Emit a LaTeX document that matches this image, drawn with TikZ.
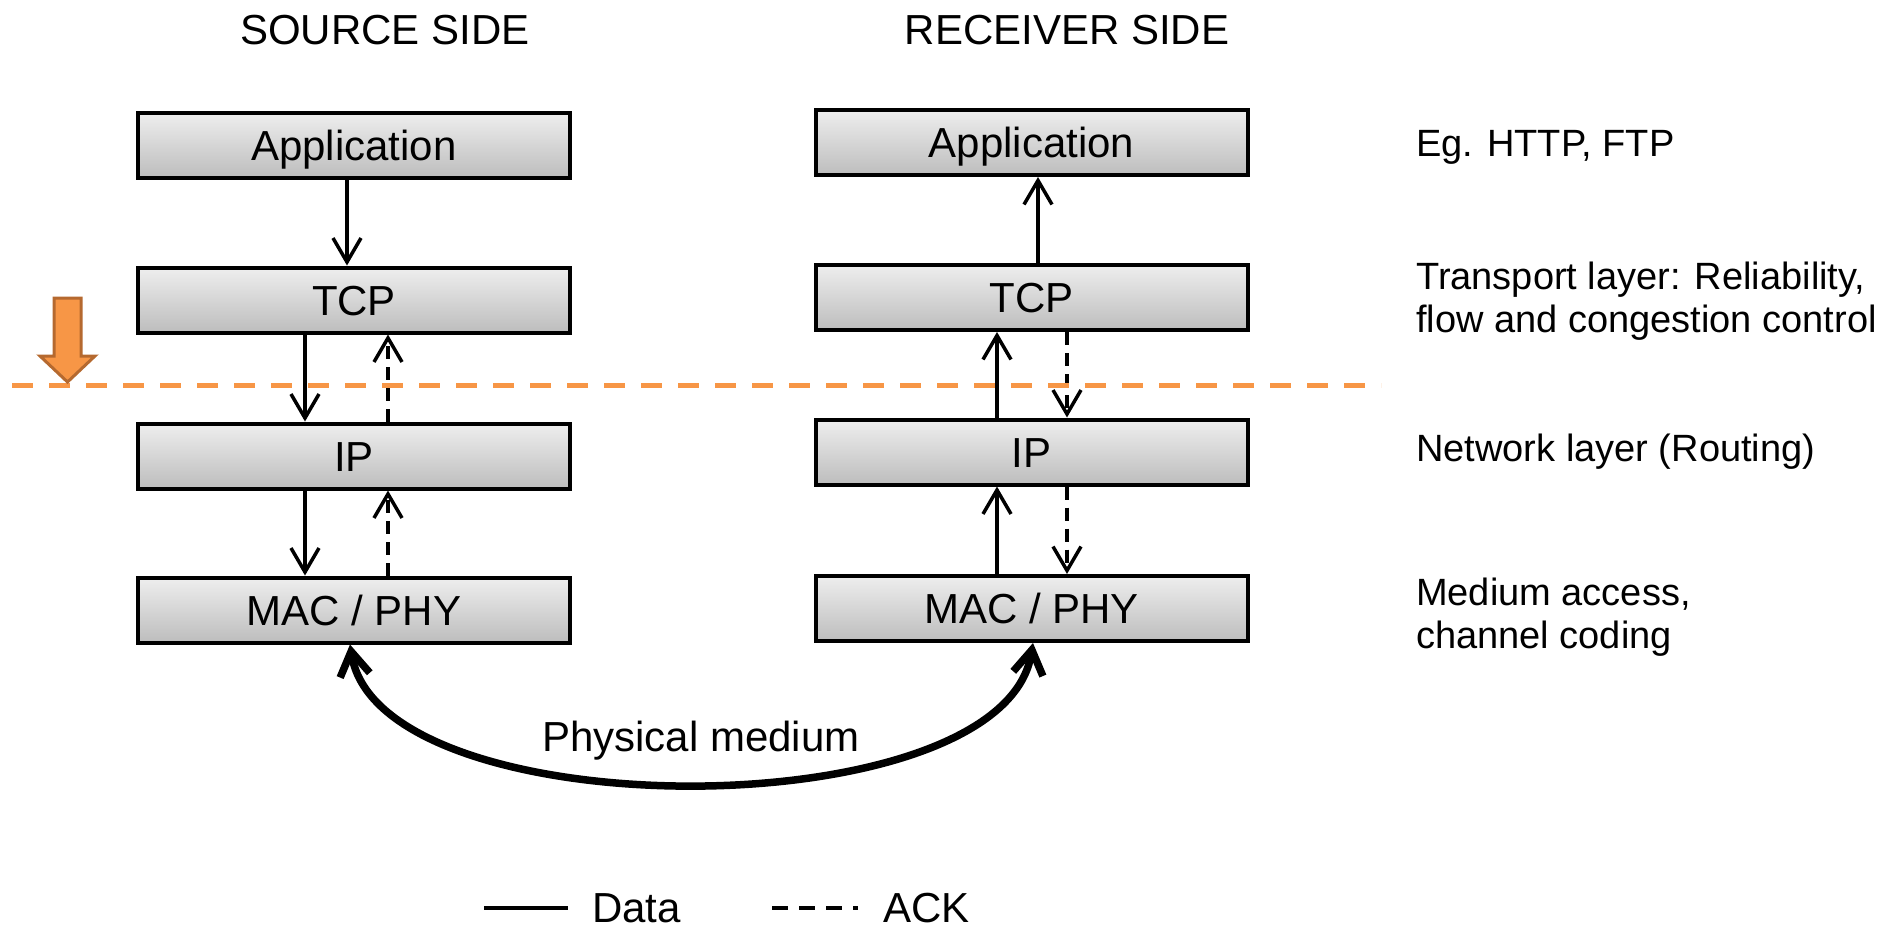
\documentclass[tikz,border=0pt]{standalone}
\usepackage{fontspec}
\setmainfont{Liberation Sans}
\usetikzlibrary{arrows.meta}
\definecolor{orng}{HTML}{F79646}
\definecolor{orngdark}{HTML}{B5692F}
\definecolor{boxtop}{HTML}{EEEEEE}
\definecolor{boxbot}{HTML}{BDBDBD}
\begin{document}
\begin{tikzpicture}[x=1pt,y=-1pt,
  layerbox/.style={draw=black, line width=4pt, top color=boxtop, bottom color=boxbot,
    minimum width=432pt, minimum height=65pt, inner sep=0pt,
    font=\fontsize{42}{50}\selectfont, text height=30pt, text depth=0pt},
  lbl/.style={font=\fontsize{42}{50}\selectfont, inner sep=0pt, text height=30pt, text depth=0pt},
  side/.style={font=\fontsize{38}{45}\selectfont, inner sep=0pt, anchor=west, text height=27pt, text depth=0pt},
  data/.style={line width=3.5pt, -{Straight Barb[length=24pt,width=28pt]}},
  ack/.style={data, dash pattern=on 13pt off 8pt},
  medium/.style={line width=7.5pt, {Straight Barb[length=24pt,width=30pt]}-{Straight Barb[length=24pt,width=30pt]}},
  cut/.style={orng, line width=5pt, dash pattern=on 21pt off 16pt},
  marker/.style={fill=orng, draw=orngdark, line width=3pt, line join=miter}
]
\useasboundingbox (0,0) rectangle (1888,930);

% headers
\node[lbl] (hs) at (385,29) {SOURCE SIDE};
\node[lbl] (hr) at (1067,29) {RECEIVER SIDE};

% source stack
\node[layerbox] (sApp) at (354,145) {Application};
\node[layerbox] (sTCP) at (354,300) {TCP};
\node[layerbox] (sIP)  at (354,456) {IP};
\node[layerbox] (sMAC) at (354,610) {MAC / PHY};

% receiver stack
\node[layerbox] (rApp) at (1031.5,142.5) {Application};
\node[layerbox] (rTCP) at (1031.5,297.5) {TCP};
\node[layerbox] (rIP)  at (1031.5,452) {IP};
\node[layerbox] (rMAC) at (1031.5,608.5) {MAC / PHY};

% x positions of connectors
\coordinate (sxa) at (347,0);
\coordinate (sxd) at (305,0);
\coordinate (sxk) at (388,0);
\coordinate (rxa) at (1038,0);
\coordinate (rxd) at (997,0);
\coordinate (rxk) at (1067,0);
\coordinate (sxm) at (350,0);
\coordinate (rxm) at (1033,0);

% source connectors
\draw[data] (sApp.south -| sxa) -- (sTCP.north -| sxa);
\draw[data] (sTCP.south -| sxd) -- (sIP.north -| sxd);
\draw[ack]  (sIP.north -| sxk) -- (sTCP.south -| sxk);
\draw[data] (sIP.south -| sxd) -- (sMAC.north -| sxd);
\draw[ack]  (sMAC.north -| sxk) -- (sIP.south -| sxk);

% receiver connectors
\draw[data] (rTCP.north -| rxa) -- (rApp.south -| rxa);
\draw[data] (rIP.north -| rxd) -- (rTCP.south -| rxd);
\draw[ack]  (rTCP.south -| rxk) -- (rIP.north -| rxk);
\draw[data] (rMAC.north -| rxd) -- (rIP.south -| rxd);
\draw[ack]  (rIP.south -| rxk) -- (rMAC.north -| rxk);

% physical medium
\draw[medium] (sMAC.south -| sxm) .. controls (380,830) and (1003,830) .. (rMAC.south -| rxm);
\node[lbl] (pm) at (701,736) {Physical medium};

% orange cut line and marker
\coordinate (cutA) at (12,385);
\coordinate (cutB) at (1381,385);
\draw[cut] (cutA) -- (cutB);
\draw[marker] (54,298) -- (81,298) -- (81,356) -- (95,356) -- (67.5,382) -- (40,356) -- (54,356) -- cycle;

% side labels
\node[side] (l1) at (1416,143) {Eg. HTTP, FTP};
\node[side] (l2a) at (1416,276) {Transport layer: Reliability,};
\node[side] (l2b) at (1416,319) {flow and congestion control};
\node[side] (l3) at (1416,448) {Network layer (Routing)};
\node[side] (l4a) at (1416,592) {Medium access,};
\node[side] (l4b) at (1416,635) {channel coding};

% legend
\coordinate (d1) at (484,908);
\coordinate (d2) at (568,908);
\draw[line width=3.5pt] (d1) -- (d2);
\node[lbl, anchor=west] (ld) at (592,907) {Data};
\coordinate (k1) at (772,908);
\coordinate (k2) at (858,908);
\draw[line width=3.5pt, dash pattern=on 16pt off 11pt] (k1) -- (k2);
\node[lbl, anchor=west] (lk) at (883,907) {ACK};
\end{tikzpicture}
\end{document}
